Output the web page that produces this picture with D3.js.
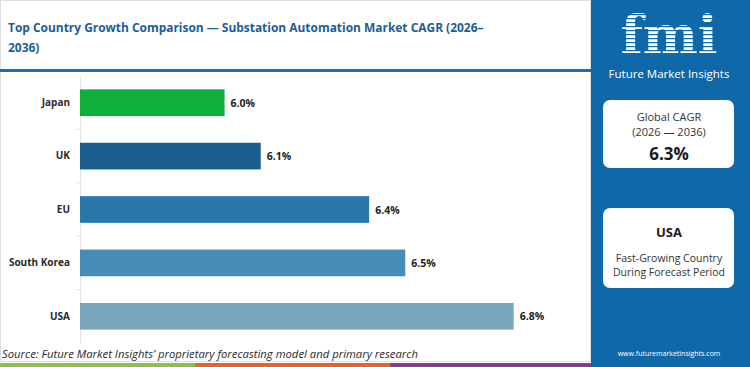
<!DOCTYPE html>
<html>
<head>
<meta charset="utf-8">
<script src="https://cdn.jsdelivr.net/npm/d3@7"></script>
<style>
  body { margin: 0; background: #fff; }
  svg { display: block; font-family: "Open Sans", Roboto, sans-serif; }
</style>
</head>
<body>
<svg id="chart"></svg>
<script>
// chart data
const countries = ["Japan", "UK", "EU", "South Korea", "USA"];
const cagr = [6.0, 6.1, 6.4, 6.5, 6.8];
const barColors = ["#10ae3b", "#1a5d8e", "#2a77aa", "#468cb8", "#7ba6c0"];
const titleLines = ["Top Country Growth Comparison \u2014 Substation Automation Market CAGR (2026\u2013", "2036)"];
const globalCagr = "6.3%";
const topCountry = "USA";

const width = 750, height = 367;
const panelX = 591;

const svg = d3.select("#chart").attr("width", width).attr("height", height);

// left frame
svg.append("rect")
    .attr("x", 0.5).attr("y", 0.5)
    .attr("width", panelX - 1).attr("height", height - 6)
    .attr("fill", "#fff").attr("stroke", "#dedede");

// title
const title = svg.append("text")
    .attr("x", 8).attr("y", 32)
    .attr("fill", "#1b5d95")
    .attr("font-size", 13.5).attr("font-weight", 700);
title.selectAll("tspan")
    .data(titleLines)
    .enter().append("tspan")
    .attr("x", 8)
    .attr("dy", (d, i) => i === 0 ? 0 : 20)
    .text(d => d);
// shrink to fit the width the title takes in the original
const firstLine = title.select("tspan").node();
const w = firstLine.getComputedTextLength();
if (w > 476) title.attr("font-size", 13.5 * 476 / w);

svg.append("rect")
    .attr("x", 0).attr("y", 69)
    .attr("width", panelX).attr("height", 3)
    .attr("fill", "#1f6ea8");

// scales
const x = d3.scaleLinear()
    .domain([5.6, 7.0])
    .range([80, 586]);

const y = d3.scaleBand()
    .domain(countries)
    .range([76, 343])
    .paddingInner(0.5)
    .paddingOuter(0.25);

// y axis
const yAxis = svg.append("g")
    .attr("transform", "translate(80,0)")
    .call(d3.axisLeft(y).tickSize(0).tickPadding(10));
yAxis.select(".domain").attr("stroke", "#e3e3e3");
yAxis.selectAll("text")
    .attr("font-size", 10).attr("font-weight", 700)
    .attr("fill", "#2a2a2a")
    .attr("font-family", "\"Open Sans\", Roboto, sans-serif");

// small ticks between bands
const step = y.step();
svg.selectAll(".sep")
    .data(countries.slice(1))
    .enter().append("line")
    .attr("x1", 76).attr("x2", 80)
    .attr("y1", d => y(d) - step * 0.25)
    .attr("y2", d => y(d) - step * 0.25)
    .attr("stroke", "#e3e3e3");

// bars
svg.selectAll(".bar")
    .data(countries)
    .enter().append("rect")
    .attr("class", "bar")
    .attr("x", x(5.6))
    .attr("y", d => y(d))
    .attr("width", (d, i) => x(cagr[i]) - x(5.6))
    .attr("height", y.bandwidth())
    .attr("fill", (d, i) => barColors[i]);

// value labels
svg.selectAll(".label")
    .data(countries)
    .enter().append("text")
    .attr("class", "label")
    .attr("x", (d, i) => x(cagr[i]) + 6)
    .attr("y", d => y(d) + y.bandwidth() / 2 + 4)
    .attr("font-size", 10.5).attr("font-weight", 700)
    .attr("fill", "#222")
    .text((d, i) => cagr[i].toFixed(1) + "%");

// source
svg.append("text")
    .attr("x", 2).attr("y", 358)
    .attr("font-size", 11.3).attr("font-style", "italic")
    .attr("fill", "#2a2a2a")
    .text("Source: Future Market Insights\u2019 proprietary forecasting model and primary research");

// bottom stripe
const stripe = [["#8cc04a", 0, 195], ["#e7622c", 195, 390], ["#8a3a8c", 390, panelX]];
svg.selectAll(".stripe")
    .data(stripe)
    .enter().append("rect")
    .attr("x", d => d[1]).attr("y", 363)
    .attr("width", d => d[2] - d[1]).attr("height", 4)
    .attr("fill", d => d[0]);

// right panel
const panel = svg.append("g");
panel.append("rect")
    .attr("x", panelX).attr("y", 0)
    .attr("width", width - panelX).attr("height", height)
    .attr("fill", "#0f68a7");

const cx = 669;

// logo
panel.append("text")
    .attr("x", cx).attr("y", 53)
    .attr("text-anchor", "middle")
    .attr("font-family", "\"DejaVu Serif\", serif")
    .attr("font-size", 52).attr("font-weight", 700)
    .attr("fill", "#fff")
    .text("fmi");
for (let ly = 14; ly < 54; ly += 4) {
    panel.append("rect")
        .attr("x", 612).attr("y", ly)
        .attr("width", 116).attr("height", 1.2)
        .attr("fill", "#0f68a7");
}
panel.append("text")
    .attr("x", cx).attr("y", 78)
    .attr("text-anchor", "middle")
    .attr("font-size", 11.5)
    .attr("fill", "#fff")
    .text("Future Market Insights");

// card 1
panel.append("rect")
    .attr("x", 603).attr("y", 100)
    .attr("width", 131).attr("height", 68)
    .attr("rx", 7)
    .attr("fill", "#fff");
panel.append("text")
    .attr("x", cx).attr("y", 121)
    .attr("text-anchor", "middle")
    .attr("font-size", 11).attr("fill", "#333")
    .text("Global CAGR");
panel.append("text")
    .attr("x", cx).attr("y", 136)
    .attr("text-anchor", "middle")
    .attr("font-size", 11).attr("fill", "#333")
    .text("(2026 \u2014 2036)");
panel.append("text")
    .attr("x", cx).attr("y", 160)
    .attr("text-anchor", "middle")
    .attr("font-size", 17).attr("font-weight", 700).attr("fill", "#1a1a1a")
    .text(globalCagr);

// card 2
panel.append("rect")
    .attr("x", 603).attr("y", 208)
    .attr("width", 131).attr("height", 80)
    .attr("rx", 7)
    .attr("fill", "#fff");
panel.append("text")
    .attr("x", cx).attr("y", 237)
    .attr("text-anchor", "middle")
    .attr("font-size", 13).attr("font-weight", 700).attr("fill", "#1a1a1a")
    .text(topCountry);
panel.append("text")
    .attr("x", cx).attr("y", 262)
    .attr("text-anchor", "middle")
    .attr("font-size", 10.5).attr("fill", "#333")
    .text("Fast-Growing Country");
panel.append("text")
    .attr("x", cx).attr("y", 276)
    .attr("text-anchor", "middle")
    .attr("font-size", 10.5).attr("fill", "#333")
    .text("During Forecast Period");

panel.append("text")
    .attr("x", cx).attr("y", 356)
    .attr("text-anchor", "middle")
    .attr("font-size", 7).attr("fill", "#fff")
    .text("www.futuremarketinsights.com");
</script>
</body>
</html>
